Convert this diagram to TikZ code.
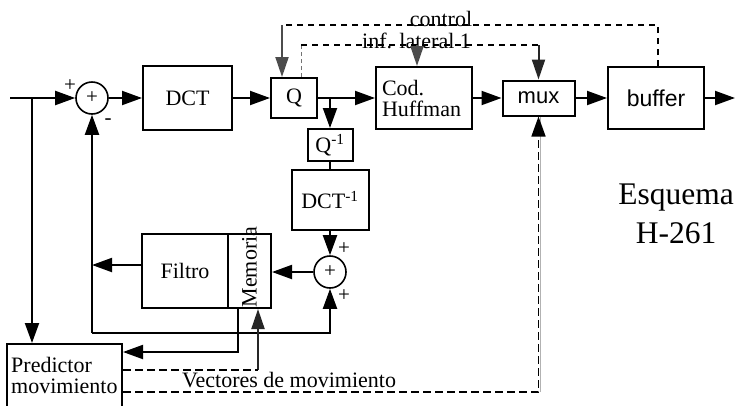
\documentclass[tikz,border=0pt]{standalone}
\usepackage{fontspec}
\setmainfont{Liberation Serif}
\newfontfamily\hsans{Liberation Sans}
\usetikzlibrary{arrows.meta}
\begin{document}
\begin{tikzpicture}[x=1pt,y=-1pt,
  blk/.style={draw,line width=2pt,inner sep=0pt,font=\fontsize{22}{21}\selectfont},
  sumc/.style={draw,circle,line width=1.6pt,minimum size=32pt,inner sep=0pt,font=\fontsize{21}{21}\selectfont},
  lbl/.style={inner sep=0pt,font=\fontsize{22}{21}\selectfont},
  sgn/.style={inner sep=0pt,font=\fontsize{21}{21}\selectfont},
  ln/.style={line width=2pt},
  tip/.style={-{Triangle[length=20pt,width=14pt]}},
  arr/.style={ln,tip},
  garr/.style={line width=2pt,draw=black!70,-{Triangle[length=20pt,width=13pt,fill=black!70]}},
  darr/.style={line width=2pt,draw=black!85,-{Triangle[length=20pt,width=13pt,fill=black!85]}},
  dtop/.style={line width=1.2pt,dash pattern=on 6pt off 5pt},
  dbot/.style={line width=1.5pt,dash pattern=on 8pt off 4pt}]
\useasboundingbox (0,0) rectangle (735,405);
% blocks
\node[sumc] (s1) at (92,98) {+};
\node[blk,minimum width=89pt,minimum height=64pt] (dct) at (187.5,98) {DCT};
\node[blk,minimum width=46pt,minimum height=40pt] (q) at (294,98) {Q};
\node[blk,minimum width=96pt,minimum height=62pt,text width=84pt,align=left] (huff) at (424,98) {Cod.\\Huffman};
\node[blk,minimum width=72pt,minimum height=35pt,font=\hsans\fontsize{22}{22}\selectfont] (mux) at (538.5,98) {mux};
\node[blk,minimum width=96pt,minimum height=62pt,font=\hsans\fontsize{23}{23}\selectfont] (buf) at (656,98) {buffer};
\node[blk,minimum width=45pt,minimum height=32pt] (qi) at (330,145) {Q\textsuperscript{-1}};
\node[blk,minimum width=77pt,minimum height=60pt] (dcti) at (330,200) {DCT\textsuperscript{-1}};
\node[sumc] (s2) at (330,272) {+};
\node[blk,minimum width=86pt,minimum height=74pt] (fil) at (185,271) {Filtro};
\node[blk,minimum width=43pt,minimum height=74pt] (mem) at (249.5,271) {};
\node[lbl,rotate=90] (memt) at (249.5,267) {Memoria};
\node[blk,minimum width=115pt,minimum height=66pt] (pred) at (64.5,377) {};
\node[lbl,anchor=north west,align=left] (predt) at (11,357) {Predictor\\movimiento};
% signs
\node[sgn] (p1) at (70,86) {+};
\node[sgn] (m1) at (108,122) {-};
\node[sgn] (p2) at (344,249) {+};
\node[sgn] (p3) at (344,296) {+};
% labels
\node[lbl,anchor=base] (ctlt) at (441,26) {control};
\node[lbl,anchor=base west] (inft) at (362,48) {inf. lateral 1};
\node[lbl,anchor=base west] (vect) at (182,387) {Vectores de movimiento};
\node[inner sep=0pt,align=center,font=\fontsize{31.5}{39}\selectfont] (esq) at (676,214) {Esquema\\H-261};
% coordinates
\coordinate (in) at (10,98);
\coordinate (b1) at (32,98);
\coordinate (b2) at (330,98);
\coordinate (out) at (735,98);
\coordinate (c1) at (92,333);
\coordinate (ctl) at (282,25);
\coordinate (inf0) at (301,45);
\coordinate (inf1) at (417,45);
\coordinate (inf2) at (538.5,45);
\coordinate (v1) at (258,370);
% main path
\draw[arr] (in) -- (s1.west);
\draw[arr] (b1) -- (b1 |- pred.north);
\draw[arr] (s1) -- (dct);
\draw[arr] (dct) -- (q);
\draw[arr] (q) -- (huff);
\draw[arr] (b2) -- (qi.north);
\draw[ln] (qi) -- (dcti);
\draw[arr] (dcti) -- (s2);
\draw[arr] (huff) -- (mux);
\draw[arr] (mux) -- (buf);
\draw[arr] (buf) -- (out);
% feedback
\draw[arr] (s2.west) -- (s2.west -| mem.east);
\draw[arr] ([yshift=6pt]fil.west) -- ([yshift=6pt]fil.west -| s1.south);
\draw[arr] (c1) -- (s1.south);
\draw[arr] (c1) -| (s2.south);
\draw[arr] ([xshift=-11.5pt]mem.south) |- (pred.east |- 0,352);
\draw[darr] (v1) -- (v1 |- mem.south);
% dashed lines
\draw[dbot] (pred.east |- 0,370) -- (v1);
\draw[black!30,line width=0.8pt] ([xshift=1.5pt]mux.south |- 0,392) -- ([xshift=1.5pt]mux.south);
\draw[dbot,tip] (pred.east |- 0,392) -| (mux.south);
\draw[dtop] ([xshift=2pt]buf.north) |- (ctl);
\draw[garr] (ctl) -- (ctl |- q.north);
\draw[line width=0.8pt,black!55,dash pattern=on 4pt off 3pt] (inf0 |- q.north) -- (inf0);
\draw[dtop] (inf0) -- (inf2);
\draw[garr] (inf1) -- (inf1 |- huff.north);
\draw[darr] (inf2) -- (mux.north);
\end{tikzpicture}
\end{document}
